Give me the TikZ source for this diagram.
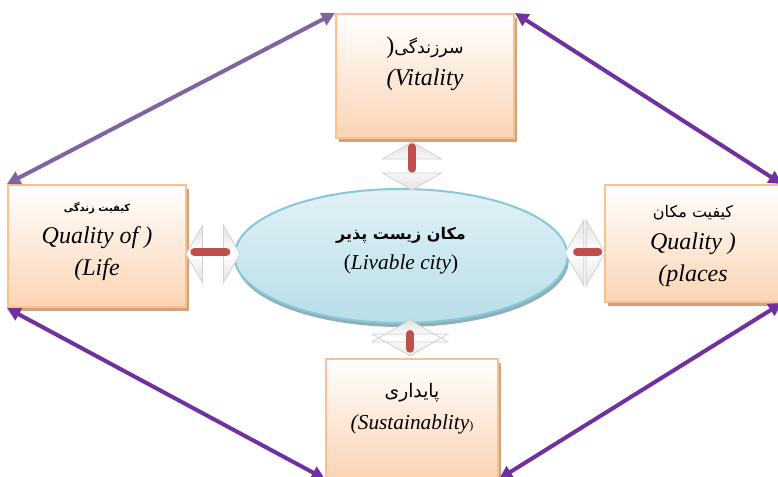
\documentclass[tikz,border=0pt]{standalone}
\usepackage{fontspec}
\setmainfont{Liberation Serif}
\newfontfamily\arabicfont[Script=Arabic]{DejaVu Sans}
\TeXXeTstate=1
\usetikzlibrary{positioning,shapes.geometric,shapes.arrows,shadows,arrows.meta,calc}
\definecolor{peach}{HTML}{FBD4B4}
\definecolor{peachline}{HTML}{FAC08F}
\definecolor{peachshadow}{HTML}{CFA47C}
\definecolor{skytop}{HTML}{E2F1F6}
\definecolor{skyfill}{HTML}{B7DEE8}
\definecolor{skyline}{HTML}{86C7D8}
\definecolor{skyshadow}{HTML}{8FAEB8}
\definecolor{lilac}{HTML}{8064A2}
\definecolor{purpleline}{HTML}{7030A0}
\definecolor{barred}{HTML}{C0504D}
\newcommand{\fa}[2][12]{\mbox{\arabicfont\fontsize{#1}{#1}\selectfont\beginR #2\endR}}
\tikzset{
  box/.style={rectangle, draw=peachline, line width=1.5pt, inner sep=0pt,
    top color=white, bottom color=peach,
    drop shadow={shadow xshift=2.5pt, shadow yshift=-3pt, fill=peachshadow, opacity=1}},
  txt/.style={align=center, inner sep=0pt, font=\fontsize{18}{24}\selectfont},
  city/.style={ellipse, draw=skyline, line width=1.5pt, inner sep=0pt,
    top color=skytop, bottom color=skyfill,
    drop shadow={shadow xshift=1pt, shadow yshift=-3pt, fill=skyshadow, opacity=1}},
  blockarr/.style={double arrow, double arrow tip angle=120, double arrow head extend=10pt,
    inner sep=0pt, draw=gray!35, line width=0.6pt,
    top color=gray!22, bottom color=gray!22, middle color=white},
  redbar/.style={line width=6pt, line cap=round, draw=barred},
  link/.style={line width=3pt, draw=#1, {Triangle[length=10pt,width=10pt]}-{Triangle[length=10pt,width=10pt]}}
}
\begin{document}
\begin{tikzpicture}[x=0.75pt,y=-0.75pt]
\useasboundingbox (0,0) rectangle (778,477);
\clip (0,0) rectangle (778,477);
% les quatre cadres et l'ellipse
\node (vital) [box, minimum width=133.5pt, minimum height=93pt] at (425,76) {};
\node (life)  [box, minimum width=133.5pt, minimum height=91.5pt] at (97,246) {};
\node (place) [box, minimum width=132pt, minimum height=87.75pt] at (693,243.5) {};
\node (sust)  [box, minimum width=129pt, minimum height=89.25pt] at (412,418.5) {};
\node (livable) [city, minimum width=249.75pt, minimum height=100.5pt] at (401,256) {};
% textes
\node (vitaltxt) [txt] at ([yshift=9pt]vital.center) {\mbox{)}\fa[13]{سرزندگی}\\\textit{(Vitality}};
\node (lifetxt) [txt] at ([yshift=3pt]life.center) {\textbf{\fa[7.5]{کیفیت زندگی}}\\\textit{Quality of )}\\\textit{(Life}};
\node (placetxt) [txt] at ([yshift=-2pt]place.center) {\fa{کیفیت مکان}\\\textit{Quality )}\\\textit{(places}};
\node (susttxt) [txt, font=\fontsize{16}{24}\selectfont] at ([yshift=7pt]sust.center) {\fa[14]{پایداری}\\\textit{(Sustainablity}{\small )}};
\node (livtxt) [txt, font=\fontsize{16}{23}\selectfont] at ([yshift=4pt]livable.center) {\textbf{\fa{مکان زیست پذیر}}\\(\textit{Livable city})};
% flèches doubles
\node (arrT) [blockarr, rotate=90, minimum height=36pt, minimum width=44pt] at (412,166) {};
\node (arrB) [blockarr, rotate=90, minimum height=27pt, minimum width=57pt] at (410,338) {};
\node (arrL) [blockarr, minimum height=40.5pt, minimum width=43pt] at (213,254) {};
\node (arrR) [blockarr, minimum height=30pt, minimum width=49pt] at (585,253) {};
\draw[redbar] ([yshift=14pt]arrT.center) -- ([yshift=-2pt]arrT.center);
\draw[redbar] ([yshift=3pt]arrB.center) -- ([yshift=-8pt]arrB.center);
\draw[redbar] ([xshift=-14pt,yshift=1.5pt]arrL.center) -- ([xshift=10pt,yshift=1.5pt]arrL.center);
\draw[redbar] ([xshift=-6pt,yshift=1pt]arrR.center) -- ([xshift=10pt,yshift=1pt]arrR.center);
% liens
\draw[link=lilac] (life.north west) -- (vital.north west);
\draw[link=purpleline] (vital.north east) -- (place.north east);
\draw[link=purpleline] (life.south west) -- (sust.south west);
\draw[link=purpleline] (place.south east) -- (sust.south east);
\end{tikzpicture}
\end{document}
